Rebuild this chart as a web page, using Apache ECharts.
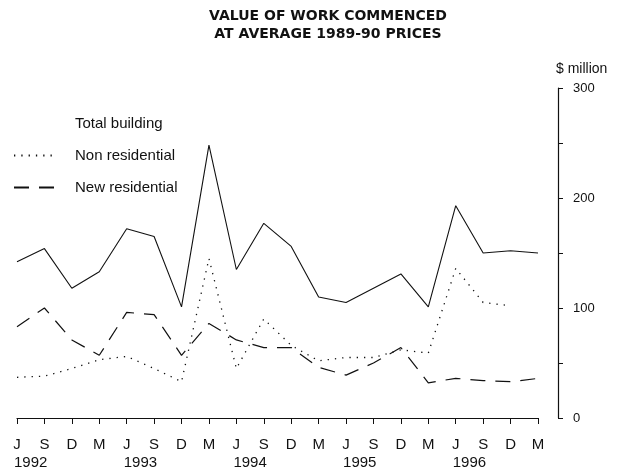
<!DOCTYPE html>
<html>
<head>
<meta charset="utf-8">
<script src="https://cdn.jsdelivr.net/npm/echarts@6/dist/echarts.min.js"></script>
<style>
  html, body { margin: 0; padding: 0; background: #fff; }
  #chart { width: 617px; height: 470px; }
</style>
</head>
<body>
<div id="chart"></div>
<script>
// quarters, June 1992 to March 1997
const quarters = ["J", "S", "D", "M", "J", "S", "D", "M", "J", "S", "D", "M",
  "J", "S", "D", "M", "J", "S", "D", "M"];
// year labels sit between J and S of each year
const yearLabels = ["1992", "", "", "", "1993", "", "", "", "1994", "", "", "",
  "1995", "", "", "", "1996", "", ""];

// $ million
const totalBuilding = [142, 154, 118, 133, 172, 165, 101, 248, 135, 177, 156, 110,
  105, 118, 131, 101, 193, 150, 152, 150];
const nonResidential = [37, 38, 45, 53, 56, 45, 33, 145, 45, 90, 66, 52,
  55, 55, 62, 59, 136, 105, 102, null];
const newResidential = [83, 100, 71, 57, 96, 94, 57, 86, 71, 64, 64, 46,
  39, 50, 64, 32, 36, 34, 33, 36];

const ink = "#111";
const font = "'Liberation Sans', Arial, sans-serif";

const chart = echarts.init(document.getElementById("chart"));

const option = {
  animation: false,
  backgroundColor: "#fff",
  title: {
    text: "VALUE OF WORK COMMENCED\nAT AVERAGE 1989-90 PRICES",
    left: 323,
    top: 2,
    textAlign: "center",
    textStyle: {
      fontFamily: "'DejaVu Sans', sans-serif",
      fontWeight: "bold",
      fontSize: 14,
      lineHeight: 18,
      color: ink,
    },
  },
  legend: {
    orient: "vertical",
    left: 13,
    top: 116,
    padding: 0,
    itemWidth: 40,
    itemHeight: 14,
    itemGap: 17,
    itemStyle: { opacity: 0 },
    textStyle: {
      fontFamily: font,
      fontSize: 15,
      color: ink,
      padding: [0, 0, 0, 16],
    },
    data: [
      { name: "Total building", lineStyle: { opacity: 0 } },
      { name: "Non residential" },
      { name: "New residential" },
    ],
  },
  grid: {
    left: 17,
    right: 79,
    top: 88,
    bottom: 52,
  },
  xAxis: [
    {
      type: "category",
      data: quarters,
      boundaryGap: false,
      position: "bottom",
      offset: 7,
      axisLine: { lineStyle: { color: ink, width: 1.2 } },
      axisTick: { length: 6, lineStyle: { color: ink } },
      axisLabel: {
        interval: 0,
        margin: 12,
        fontFamily: font,
        fontSize: 15,
        color: ink,
      },
      splitLine: { show: false },
    },
    {
      type: "category",
      data: yearLabels,
      boundaryGap: true,
      position: "bottom",
      offset: 7,
      axisLine: { show: false },
      axisTick: { show: false },
      axisLabel: {
        interval: 0,
        margin: 30,
        fontFamily: font,
        fontSize: 15,
        color: ink,
      },
      splitLine: { show: false },
    },
  ],
  yAxis: {
    type: "value",
    position: "right",
    offset: 20,
    min: 0,
    max: 300,
    interval: 50,
    name: "$ million",
    nameLocation: "end",
    nameGap: 12,
    nameTextStyle: {
      fontFamily: font,
      fontSize: 14,
      color: ink,
      align: "left",
      padding: [0, 0, 0, -2],
    },
    axisLine: { show: true, lineStyle: { color: ink, width: 1.2 } },
    axisTick: { show: true, length: 5, lineStyle: { color: ink } },
    axisLabel: {
      margin: 15,
      fontFamily: font,
      fontSize: 13,
      color: ink,
      formatter: (v) => (v % 100 === 0 ? String(v) : ""),
    },
    splitLine: { show: false },
  },
  series: [
    {
      name: "Total building",
      type: "line",
      data: totalBuilding,
      symbol: "none",
      lineStyle: { color: ink, width: 1.1, type: "solid" },
      itemStyle: { color: ink },
    },
    {
      name: "Non residential",
      type: "line",
      data: nonResidential,
      symbol: "none",
      lineStyle: { color: ink, width: 1.3, type: [1.3, 6] },
      itemStyle: { color: ink },
    },
    {
      name: "New residential",
      type: "line",
      data: newResidential,
      symbol: "none",
      lineStyle: { color: ink, width: 1.2, type: [15, 10] },
      itemStyle: { color: ink },
    },
  ],
};

chart.setOption(option);
</script>
</body>
</html>
